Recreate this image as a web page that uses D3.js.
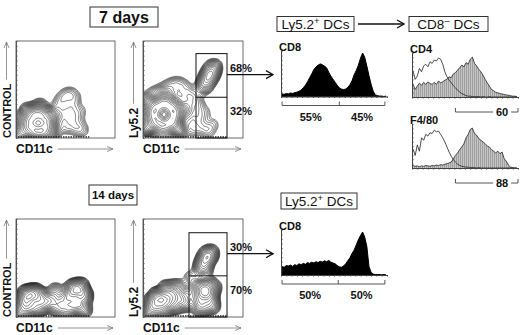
<!DOCTYPE html>
<html>
<head>
  <meta charset="utf-8">
  <title>Ly5.2+ DCs</title>
  <script src="https://d3js.org/d3.v7.min.js"></script>
  <style>
    body { margin: 0; background: #fff; }
    text { font-family: "Liberation Sans", Arial, sans-serif; fill: #111; }
  </style>
</head>
<body>
<div id="fig"></div>

<script type="text/javascript">

  // ---- data (all x / y in 0-100 channel units) ----
  var dayTitles = ["7 days", "14 days"];

  // contour plots: weighted event clusters [CD11c, y-marker, weight]
  var ctrl7 = [[14,15,4],[17,8,4],[22,6,4],[28,8,4],[31,15,4],[28,22,4],[22,25,4],[16,22,4],
               [8,8,2],[6,18,1.5],[36,8,1.5],[36,22,1.2],[24,32,1],[12,28,1],[4,4,1.5],[30,3,1.5],
               [38,26,0.35],[42,34,0.3],[46,40,0.3],[50,44,0.3],[55,46,0.3],[60,42,0.25],
               [58,34,0.3],[52,30,0.3],[48,24,0.3],[54,20,0.3],[60,24,0.3],[64,16,0.25],
               [68,8,0.25],[62,8,0.25],[56,12,0.3],[48,10,0.3],[42,18,0.35],[66,28,0.2]];
  var ly7 = [[11,24,4],[14,16,4],[21,13,4],[29,16,4],[31,24,4],[29,32,4],[21,35,4],[13,32,4],
             [5,12,2],[35,9,1.6],[39,28,1.3],[5,35,1.2],[22,42,1.2],[20,4,1.8],[3,24,1.2],
             [6,42,0.3],[12,46,0.3],[18,48,0.3],[24,52,0.3],[30,55,0.3],[36,56,0.28],
             [42,52,0.3],[48,46,0.3],[52,40,0.28],[44,40,0.3],[36,44,0.3],[28,44,0.3],
             [46,32,0.3],[52,26,0.28],[56,18,0.25],[60,10,0.22],[66,6,0.2],[70,14,0.2],
             [62,26,0.2],[56,34,0.22],[44,18,0.3],[50,8,0.25],
             [60,52,0.6],[63,58,1.1],[66,64,1.4],[69,69,1.1],[71,74,0.5]];
  var ctrl14 = [[8,16,2],[12,22,2.6],[18,24,2],[24,20,1.5],[14,10,1.5],[22,10,1.2],[30,14,1],[6,6,1.4],
                [36,18,0.8],[42,10,0.8],[48,16,0.7],[40,26,0.5],
                [54,22,1],[58,28,1.4],[64,30,1.6],[68,22,1.4],[62,14,1],[56,10,0.8],[68,8,0.7],[50,6,0.6]];
  var ly14 = [[10,14,2.2],[16,20,2.8],[22,16,2.2],[18,8,2],[28,22,1.5],[8,6,1.5],[30,12,1.2],[36,20,1],
              [24,28,1],[42,14,0.8],[34,30,0.6],
              [56,18,1],[60,26,1.6],[63,32,1.3],[66,22,1.4],[58,10,1],[68,12,0.9],[54,30,0.6],[70,30,0.6],
              [58,50,0.45],[61,56,0.8],[64,61,1],[67,65,0.8],[62,48,0.4],[46,24,0.5],[48,40,0.25]];

  // events piled on the x axis [from, to]
  var pileCtrl7 = [2, 74], pileLy7 = [2, 84], pileCtrl14 = [2, 74], pileLy14 = [2, 84];

  // Ly5.2 gates [x0, x1, divider, top] and their percentages
  var gate7 = [53, 84, 42, 87], gatePct7 = ["68%", "32%"];
  var gate14 = [46, 84, 42, 86], gatePct14 = ["30%", "70%"];

  // histograms, 50 bins over 0-100
  var cd8Day7 = [6,5,7,6,8,7,9,10,12,15,20,26,34,43,52,62,68,72,75,73,
                 70,66,56,47,40,33,26,20,17,16,17,21,27,36,50,60,72,88,100,90,
                 70,48,28,12,4,2,1,1,0,1];
  var cd8Day14 = [20,18,22,21,23,20,24,22,26,24,27,25,29,27,30,28,31,29,32,30,
                  33,31,34,30,28,26,22,19,18,21,26,33,40,50,58,70,82,92,100,88,
                  66,20,6,2,1,1,1,0,1,0];
  var cd4Open = [62,42,50,68,60,74,78,72,84,80,88,86,93,90,78,60,48,40,34,27,
                 22,16,12,8,6,3,2,2,1,1,1,1,0,1,0,0,1,0,0,0,
                 0,0,0,0,0,0,0,0,0,0];
  var cd4Filled = [30,18,26,33,28,35,30,36,32,30,35,30,38,34,36,40,42,48,46,55,
                   58,64,70,76,72,82,78,90,95,80,74,66,60,52,42,34,26,18,15,11,
                   10,8,7,6,5,4,3,2,2,1];
  var f480Open = [45,30,55,40,72,66,80,76,84,82,90,86,88,80,72,62,50,38,28,20,
                  14,9,6,4,3,2,2,1,1,1,0,1,0,0,0,0,0,0,0,0,
                  0,0,0,0,0,0,0,0,0,0];
  var f480Filled = [6,4,5,3,5,4,6,5,4,6,5,7,6,8,7,9,10,12,14,22,
                    30,36,44,50,58,72,80,92,95,82,78,70,66,62,58,52,50,44,40,36,
                    40,34,38,22,16,7,2,1,0,0];

  // split markers under the histograms
  var cd8Split7 = [1, 55, 98], cd8Pct7 = ["55%", "45%"];
  var cd8Split14 = [1, 54, 98], cd8Pct14 = ["50%", "50%"];
  var cd4Range = [41, 100], cd4Pct = "60";
  var f480Range = [41, 100], f480Pct = "88";

  // contour levels as fraction of peak density
  var levelFrac = [0.95, 0.8, 0.67, 0.56, 0.47, 0.4, 0.33, 0.28, 0.235, 0.195, 0.165,
                   0.138, 0.115, 0.096, 0.08, 0.066, 0.055, 0.045, 0.037, 0.03, 0.024, 0.019];

  // ---- drawing ----
  var svg = d3.select("#fig").append("svg")
          .attr("width", 520)
          .attr("height", 335)
  var defs = svg.append("defs");

  defs.append("marker").attr("id", "axArrow")
          .attr("viewBox", "0 0 8 8").attr("refX", 7).attr("refY", 4)
          .attr("markerWidth", 8).attr("markerHeight", 8)
          .attr("markerUnits", "userSpaceOnUse").attr("orient", "auto")
        .append("path").attr("d", "M1,1.5 L7,4 L1,6.5")
          .attr("fill", "none").attr("stroke", "#777").attr("stroke-width", 0.8);

  defs.append("marker").attr("id", "flowArrow")
          .attr("viewBox", "0 0 10 10").attr("refX", 9).attr("refY", 5)
          .attr("markerWidth", 10).attr("markerHeight", 10)
          .attr("markerUnits", "userSpaceOnUse").attr("orient", "auto")
        .append("path").attr("d", "M2,1 L9,5 L2,9")
          .attr("fill", "none").attr("stroke", "#111").attr("stroke-width", 1.3);

  var pat = defs.append("pattern").attr("id", "hatch")
          .attr("width", 2).attr("height", 6).attr("patternUnits", "userSpaceOnUse");
  pat.append("rect").attr("width", 2).attr("height", 6).attr("fill", "#c6c6c6");
  pat.append("line").attr("x1", 0.5).attr("x2", 0.5).attr("y1", 0).attr("y2", 6)
          .attr("stroke", "#8c8c8c").attr("stroke-width", 0.7);

  function boxLabel(x, y, w, h, size, bold, parts) {
    svg.append("rect").attr("x", x).attr("y", y).attr("width", w).attr("height", h)
            .attr("fill", "none").attr("stroke", "#333").attr("stroke-width", 1);
    var t = svg.append("text").attr("x", x + w / 2).attr("y", y + h / 2 + size * 0.36)
            .attr("text-anchor", "middle").attr("font-size", size)
            .attr("font-weight", bold ? "bold" : "normal");
    parts.forEach(function(p) {
      var s = t.append("tspan").text(p[0]);
      if (p[1]) s.attr("font-size", size * 0.7).attr("dy", -size * 0.35);
      else if (p[2]) s.attr("dy", size * 0.35);
    });
  }

  var clipN = 0;
  function dotPlot(f, events, pile, yLabel, gate, pct) {
    var x = d3.scaleLinear().domain([0, 100]).range([0, f.w]);
    var y = d3.scaleLinear().domain([0, 100]).range([f.h, 0]);
    var g = svg.append("g").attr("transform", "translate(" + f.x + "," + f.y + ")");

    var id = "clip" + (clipN++);
    defs.append("clipPath").attr("id", id)
          .append("rect").attr("width", f.w).attr("height", f.h);

    var dens = d3.contourDensity()
            .x(function(d) { return x(d[0]); })
            .y(function(d) { return y(d[1]); })
            .weight(function(d) { return d[2]; })
            .size([f.w, f.h])
            .cellSize(1)
            .bandwidth(4.4)
            .thresholds(function(v) {
              var m = d3.max(v);
              return levelFrac.map(function(p) { return m * p; });
            });

    g.append("g").attr("clip-path", "url(#" + id + ")")
          .selectAll("path")
          .data(dens(events))
          .enter()
          .append("path")
          .attr("d", d3.geoPath())
          .attr("fill", "none")
          .attr("stroke", "#1a1a1a")
          .attr("stroke-width", 0.55);

    // events sitting on the axis
    g.append("line")
          .attr("x1", x(pile[0])).attr("x2", x(pile[1]))
          .attr("y1", f.h - 1).attr("y2", f.h - 1)
          .attr("stroke", "#222").attr("stroke-width", 1.4)
          .attr("stroke-dasharray", "1.5,1");

    // frame
    g.append("rect").attr("width", f.w).attr("height", f.h)
          .attr("fill", "none").attr("stroke", "#444").attr("stroke-width", 0.8);
    g.append("g").call(d3.axisRight(y).ticks(20).tickSize(1.5).tickSizeOuter(0).tickFormat(""))
          .selectAll("line,path").attr("stroke", "#555");

    // axis labels with arrows
    var xl = g.append("text").attr("x", 0).attr("y", f.h + 15)
          .attr("font-size", 12).attr("font-weight", "bold").text("CD11c");
    var xw = xl.node().getComputedTextLength();
    g.append("line").attr("x1", xw + 5).attr("x2", f.w - 2)
          .attr("y1", f.h + 11).attr("y2", f.h + 11)
          .attr("stroke", "#777").attr("stroke-width", 0.8)
          .attr("marker-end", "url(#axArrow)");

    var yl = g.append("text")
          .attr("transform", "translate(-5," + f.h + ") rotate(-90)")
          .attr("font-size", yLabel.size).attr("font-weight", "bold").text(yLabel.text);
    var yw = yl.node().getComputedTextLength();
    g.append("line").attr("x1", -9.5).attr("x2", -9.5)
          .attr("y1", f.h - yw - 4).attr("y2", 1)
          .attr("stroke", "#777").attr("stroke-width", 0.8)
          .attr("marker-end", "url(#axArrow)");

    if (gate) {
      var gx0 = x(gate[0]), gx1 = x(gate[1]), gy = y(gate[2]), gt = y(gate[3]);
      g.append("rect").attr("x", gx0).attr("y", gt).attr("width", gx1 - gx0).attr("height", f.h - gt)
            .attr("fill", "none").attr("stroke", "#111").attr("stroke-width", 1);
      g.append("line").attr("x1", gx0).attr("x2", gx1).attr("y1", gy).attr("y2", gy)
            .attr("stroke", "#111").attr("stroke-width", 1);
      g.append("text").attr("x", gx1 + 3).attr("y", gt + 18).attr("font-size", 11)
            .attr("font-weight", "bold").text(pct[0]);
      g.append("text").attr("x", gx1 + 3).attr("y", gy + 18).attr("font-size", 11)
            .attr("font-weight", "bold").text(pct[1]);
      g.append("line").attr("x1", gx1).attr("x2", gx1 + 46).attr("y1", gt + 21).attr("y2", gt + 21)
            .attr("stroke", "#111").attr("stroke-width", 1.3)
            .attr("marker-end", "url(#flowArrow)");
    }
  }

  function histo(h, label, filled, open, solid) {
    var x = d3.scaleLinear().domain([0, 100]).range([h.x0, h.x1]);
    var y = d3.scaleLinear().domain([0, 100]).range([h.base, h.top]);
    var bx = function(d, i) { return x(i * 2 + 1); };
    var area = d3.area().x(bx).y0(h.base).y1(function(d) { return y(d); });
    var line = d3.line().x(bx).y(function(d) { return y(d); });

    svg.append("path").datum(filled).attr("d", area)
          .attr("fill", solid ? "#000" : "url(#hatch)")
          .attr("stroke", solid ? "#000" : "none");
    if (!solid) {
      svg.append("path").datum(filled).attr("d", line)
            .attr("fill", "none").attr("stroke", "#222").attr("stroke-width", 0.8);
    }
    if (open) {
      svg.append("path").datum(open).attr("d", line)
            .attr("fill", "none").attr("stroke", "#222").attr("stroke-width", 0.8);
    }

    svg.append("g").attr("transform", "translate(" + h.x0 + ",0)")
          .call(d3.axisRight(d3.scaleLinear().domain([0, 100]).range([h.base, h.top - 2]))
                  .ticks(10).tickSize(1.5).tickSizeOuter(0).tickFormat(""))
          .selectAll("line,path").attr("stroke", "#444");
    svg.append("g").attr("transform", "translate(0," + h.base + ")")
          .call(d3.axisBottom(x).ticks(20).tickSize(1.5).tickSizeOuter(0).tickFormat(""))
          .selectAll("line,path").attr("stroke", "#444");

    svg.append("text").attr("x", h.x0 - 2).attr("y", h.top - 2)
          .attr("font-size", 11).attr("font-weight", "bold").text(label);
    return x;
  }

  function splitMarks(x, base, split, pct) {
    var yy = base + 9;
    svg.append("path")
          .attr("d", "M" + x(split[0]) + "," + (yy - 4) + "V" + yy + "H" + x(split[2]) + "V" + (yy - 4)
                  + "M" + x(split[1]) + "," + (yy - 4) + "V" + yy)
          .attr("fill", "none").attr("stroke", "#444").attr("stroke-width", 0.9);
    svg.selectAll(null).data(pct).enter().append("text")
          .attr("x", function(d, i) { return x((split[i] + split[i + 1]) / 2); })
          .attr("y", base + 24)
          .attr("text-anchor", "middle").attr("font-size", 11).attr("font-weight", "bold")
          .text(function(d) { return d; });
  }

  function rangeMark(x, base, range, pct) {
    var yy = base + 15, tx = x(85);
    svg.append("path")
          .attr("d", "M" + x(range[0]) + "," + (yy - 4) + "V" + yy + "H" + (tx - 9)
                  + "M" + (tx + 9) + "," + yy + "H" + x(range[1]) + "V" + (yy - 4))
          .attr("fill", "none").attr("stroke", "#444").attr("stroke-width", 0.9);
    svg.append("text").attr("x", tx).attr("y", yy + 4)
          .attr("text-anchor", "middle").attr("font-size", 11).attr("font-weight", "bold")
          .text(pct);
  }

  // titles
  boxLabel(90, 7, 68, 20, 16, true, [[dayTitles[0]]]);
  boxLabel(89, 185, 48, 20, 11.5, true, [[dayTitles[1]]]);

  boxLabel(277, 16.5, 77, 15, 13.5, false, [["Ly5.2"], ["+", true], [" DCs", false, true]]);
  boxLabel(409, 16.5, 79, 15, 13.5, false, [["CD8"], ["\u2013", true], [" DCs", false, true]]);
  boxLabel(281, 193, 76, 16, 13.5, false, [["Ly5.2"], ["+", true], [" DCs", false, true]]);

  svg.append("line").attr("x1", 358).attr("x2", 404).attr("y1", 24).attr("y2", 24)
          .attr("stroke", "#111").attr("stroke-width", 1.3)
          .attr("marker-end", "url(#flowArrow)");

  // dot plots
  dotPlot({x: 16, y: 41, w: 99, h: 97}, ctrl7, pileCtrl7, {text: "CONTROL", size: 11});
  dotPlot({x: 143, y: 41, w: 100, h: 97}, ly7, pileLy7, {text: "Ly5.2", size: 12}, gate7, gatePct7);
  dotPlot({x: 16, y: 219, w: 99, h: 98}, ctrl14, pileCtrl14, {text: "CONTROL", size: 11});
  dotPlot({x: 143, y: 219, w: 100, h: 98}, ly14, pileLy14, {text: "Ly5.2", size: 12}, gate14, gatePct14);

  // histograms
  var hx = histo({x0: 281, x1: 387, base: 96.5, top: 53}, "CD8", cd8Day7, null, true);
  splitMarks(hx, 96.5, cd8Split7, cd8Pct7);

  hx = histo({x0: 281, x1: 387, base: 275, top: 232}, "CD8", cd8Day14, null, true);
  splitMarks(hx, 275, cd8Split14, cd8Pct14);

  hx = histo({x0: 412, x1: 518, base: 97, top: 55}, "CD4", cd4Filled, cd4Open, false);
  rangeMark(hx, 97, cd4Range, cd4Pct);

  hx = histo({x0: 412, x1: 518, base: 168, top: 126}, "F4/80", f480Filled, f480Open, false);
  rangeMark(hx, 168, f480Range, f480Pct);

</script>
</body>
</html>
